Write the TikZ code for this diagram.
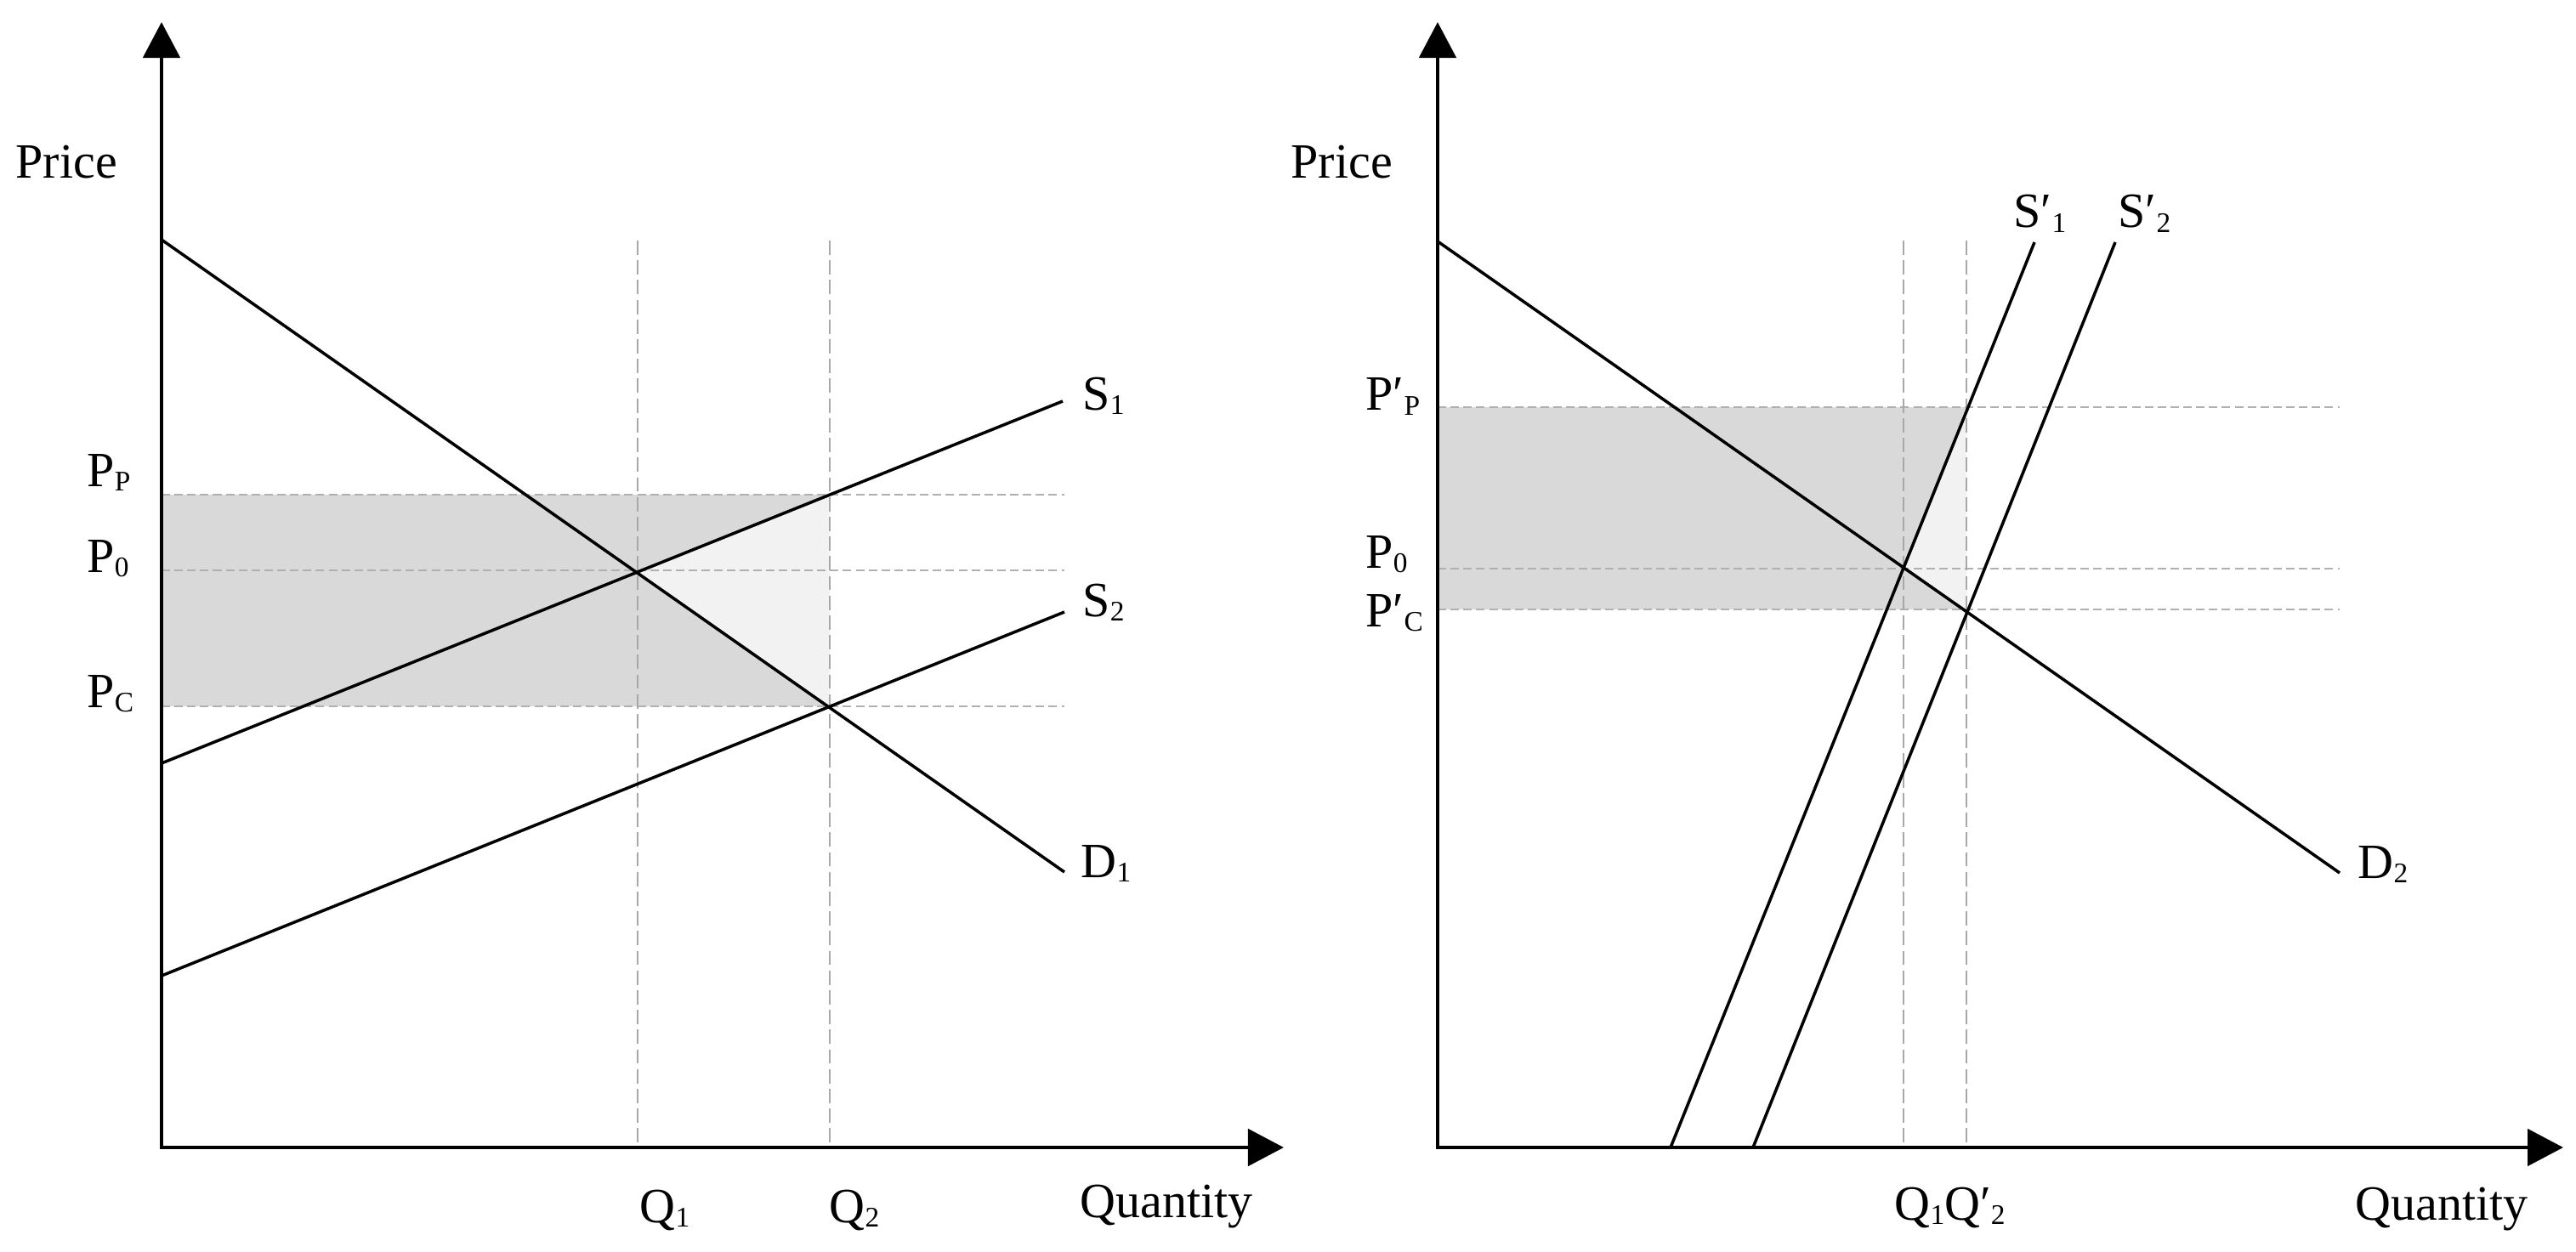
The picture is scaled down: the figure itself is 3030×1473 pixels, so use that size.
\documentclass[tikz,border=0pt]{standalone}
\usepackage{fontspec}
\setmainfont{Liberation Serif}
\usetikzlibrary{arrows.meta}
\definecolor{shadedark}{HTML}{D9D9D9}
\definecolor{shadelight}{HTML}{F2F2F2}
\definecolor{hgray}{HTML}{B0B0B0}
\definecolor{vgray}{HTML}{A8A8A8}
\newcommand\sbs[1]{\raisebox{-1.5pt}{\fontsize{9.5}{10}\selectfont #1}}
\tikzset{
  axisline/.style={line width=1.4pt, -{Triangle[length=0.42cm,width=0.43cm]}},
  curve/.style={line width=1pt, black},
  hdash/.style={line width=0.8pt, hgray, dash pattern=on 2.85pt off 1.45pt},
  vdash/.style={line width=0.55pt, vgray, dash pattern=on 4.8pt off 1.8pt},
  lbl/.style={anchor=base west, inner sep=0pt, font=\fontsize{16.5}{20}\selectfont},
}
\begin{document}
\begin{tikzpicture}[x=0.01cm, y=-0.01cm]
\useasboundingbox (0,0) rectangle (3030,1473);
% ---------- left panel coordinates ----------
\coordinate (O1) at (190,1350);
\coordinate (Y1) at (190,26);
\coordinate (X1) at (1510,1350);
\coordinate (S1a) at (190,898);
\coordinate (S1b) at (1250,472);
\coordinate (D1a) at (190,282);
\coordinate (D1b) at (1252,1026);
\coordinate (S2a) at (190,1148);
\coordinate (S2b) at (1252,720);
\coordinate (PPa) at (190,582);  \coordinate (PPb) at (1252,582);
\coordinate (P0a) at (190,671);  \coordinate (P0b) at (1252,671);
\coordinate (PCa) at (190,831);  \coordinate (PCb) at (1252,831);
\coordinate (Q1t) at (750,283);  \coordinate (Q1b) at (750,1350);
\coordinate (Q2t) at (976,283);  \coordinate (Q2b) at (976,1350);
\coordinate (E1) at (750,673);
\coordinate (E2) at (976,582);
\coordinate (E3) at (976,831);
% ---------- right panel coordinates ----------
\coordinate (O2) at (1691,1350);
\coordinate (Y2) at (1691,26);
\coordinate (X2) at (3015,1350);
\coordinate (D2a) at (1691,284);
\coordinate (D2b) at (2752,1027);
\coordinate (T1a) at (1965,1350);
\coordinate (T1b) at (2393,285);
\coordinate (T2a) at (2062,1350);
\coordinate (T2b) at (2488,285);
\coordinate (RPPa) at (1691,479);  \coordinate (RPPb) at (2752,479);
\coordinate (RP0a) at (1691,669);  \coordinate (RP0b) at (2752,669);
\coordinate (RPCa) at (1691,717);  \coordinate (RPCb) at (2752,717);
\coordinate (RQ1t) at (2239,283);  \coordinate (RQ1b) at (2239,1350);
\coordinate (RQ2t) at (2313,283);  \coordinate (RQ2b) at (2313,1350);
\coordinate (F1) at (2239,669);
\coordinate (F2) at (2313,479);
\coordinate (F3) at (2313,717);
% ---------- shading ----------
\fill[shadedark] (PPa) rectangle (E3);
\fill[shadelight] (E1) -- (E2) -- (E3) -- cycle;
\fill[shadedark] (RPPa) rectangle (F3);
\fill[shadelight] (F1) -- (F2) -- (F3) -- cycle;
% ---------- dashed guides ----------
\draw[hdash] (PPa) -- (PPb);
\draw[hdash] (P0a) -- (P0b);
\draw[hdash] (PCa) -- (PCb);
\draw[vdash] (Q1t) -- (Q1b);
\draw[vdash] (Q2t) -- (Q2b);
\draw[hdash] (RPPa) -- (RPPb);
\draw[hdash] (RP0a) -- (RP0b);
\draw[hdash] (RPCa) -- (RPCb);
\draw[vdash] (RQ1t) -- (RQ1b);
\draw[vdash] (RQ2t) -- (RQ2b);
% ---------- curves ----------
\draw[curve] (S1a) -- (S1b);
\draw[curve] (D1a) -- (D1b);
\draw[curve] (S2a) -- (S2b);
\draw[curve] (D2a) -- (D2b);
\draw[curve] (T1a) -- (T1b);
\draw[curve] (T2a) -- (T2b);
% ---------- axes ----------
\draw[axisline] (O1) -- (Y1);
\draw[axisline] ([xshift=-0.7pt]O1) -- (X1);
\draw[axisline] (O2) -- (Y2);
\draw[axisline] ([xshift=-0.7pt]O2) -- (X2);
% ---------- labels left ----------
\node[lbl] (price1) at (18,210) {Price};
\node[lbl] (pp1) at (102,572) {P\sbs{P}};
\node[lbl] (p01) at (102,673) {P\sbs{0}};
\node[lbl] (pc1) at (102,832) {P\sbs{C}};
\node[lbl] (s1) at (1273,482) {S\sbs{1}};
\node[lbl] (s2) at (1273,725) {S\sbs{2}};
\node[lbl] (d1) at (1271,1032) {D\sbs{1}};
\node[lbl] (q1) at (752,1438) {Q\sbs{1}};
\node[lbl] (q2) at (975,1438) {Q\sbs{2}};
\node[lbl] (qty1) at (1270,1432) {Quantity};
% ---------- labels right ----------
\node[lbl] (price2) at (1518,210) {Price};
\node[lbl] (pp2) at (1606,483) {P′\sbs{P}};
\node[lbl] (p02) at (1606,668) {P\sbs{0}};
\node[lbl] (pc2) at (1606,737) {P′\sbs{C}};
\node[lbl] (ss1) at (2368,268) {S′\sbs{1}};
\node[lbl] (ss2) at (2491,268) {S′\sbs{2}};
\node[lbl] (d2) at (2773,1033) {D\sbs{2}};
\node[lbl] (qq) at (2228,1435) {Q\sbs{1}Q′\sbs{2}};
\node[lbl] (qty2) at (2770,1435) {Quantity};
\end{tikzpicture}
\end{document}
